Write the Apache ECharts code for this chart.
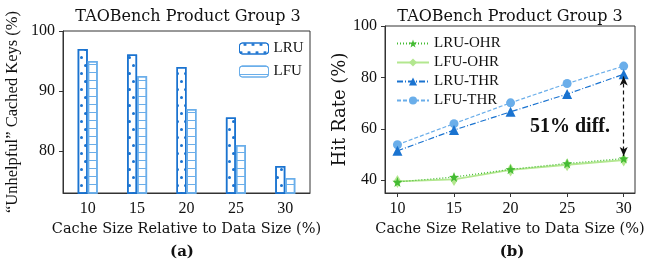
<!DOCTYPE html>
<html>
<head>
<meta charset="utf-8">
<script src="https://cdn.jsdelivr.net/npm/echarts@6/dist/echarts.min.js"></script>
<style>
html,body{margin:0;padding:0;background:#fff;}
#main{width:662px;height:263px;}
</style>
</head>
<body>
<div id="main"></div>
<script>
// data
var sizes = ['10', '15', '20', '25', '30'];
var sizeVals = [10, 15, 20, 25, 30];
var lruKeys = [97, 96.1, 94, 85.6, 77.5];
var lfuKeys = [95, 92.5, 87, 81, 75.5];
var lruOhr = [39.3, 41.2, 44.2, 46.5, 48.4];
var lfuOhr = [39.5, 40.3, 44, 46, 47.8];
var lruThr = [51.4, 59.5, 66.6, 73.5, 81.2];
var lfuThr = [53.8, 62, 70.1, 77.6, 84.4];
var leftTicks = [80, 90, 100];
var rightTicks = [40, 60, 80, 100];

var FONT = 'Liberation Serif';
var WIDE = 'DejaVu Serif';
var C_DARK = '#1a73d0', C_LIGHT = '#6aaeea', C_GREEN = '#44bb33', C_LGREEN = '#b3e78f';
var STAR = 'path://M0,-10 L2.35,-3.24 L9.51,-3.09 L3.8,1.24 L5.88,8.09 L0,4 L-5.88,8.09 L-3.8,1.24 L-9.51,-3.09 L-2.35,-3.24 Z';

function pairs(xs, ys){
	var d = [];
	for(var i=0;i<xs.length;i++){
		d.push([xs[i], ys[i]]);
	}
	return d;
}

var xNameTxt = {color:'#111', fontFamily:WIDE, fontSize:14.5};
var titleTxt = {fontFamily:WIDE, fontSize:16, fontWeight:'normal', color:'#111'};
var myChart = echarts.init(document.getElementById('main'), null, {renderer:'canvas'});

var option = {
	animation: false,
	backgroundColor: '#fff',
	textStyle: {fontFamily: FONT, color:'#111'},
	title: [
		{text:'TAOBench Product Group 3', left:183, top:4, textAlign:'center', textStyle:titleTxt},
		{text:'TAOBench Product Group 3', left:505, top:4, textAlign:'center', textStyle:titleTxt},
		{text:'(a)', left:177, top:240, textAlign:'center', textStyle:{fontFamily:WIDE, fontSize:15, fontWeight:'bold', color:'#111'}},
		{text:'(b)', left:507, top:240, textAlign:'center', textStyle:{fontFamily:WIDE, fontSize:15, fontWeight:'bold', color:'#111'}}
	],
	legend: [
		{
			left:234, top:36, orient:'vertical', itemWidth:29, itemHeight:11, itemGap:8,
			textStyle:{fontFamily:FONT, fontSize:15, color:'#111'},
			itemStyle:{borderWidth:1},
			data:['LRU','LFU']
		},
		{
			left:391, top:31, orient:'vertical', itemWidth:32, itemHeight:10, itemGap:4,
			textStyle:{fontFamily:FONT, fontSize:15, color:'#111'},
			data:['LRU-OHR','LFU-OHR','LRU-THR','LFU-THR']
		}
	],
	grid: [
		{left:63, top:31, width:247, height:162, show:true, borderColor:'#333', borderWidth:1},
		{left:385, top:26, width:250, height:167, show:true, borderColor:'#333', borderWidth:1}
	],
	xAxis: [
		{
			type:'category', gridIndex:0, data:sizes,
			axisLine:{lineStyle:{color:'#333'}},
			axisTick:{alignWithLabel:true, length:4, lineStyle:{color:'#333'}},
			axisLabel:{color:'#111', fontFamily:FONT, fontSize:16, margin:8},
			name:'Cache Size Relative to Data Size (%)', nameLocation:'middle', nameGap:29,
			nameTextStyle:xNameTxt
		},
		{
			type:'value', gridIndex:1, min:8.9, max:31, interval:5,
			axisLabel:{color:'#111', fontFamily:FONT, fontSize:16, margin:8, customValues:sizeVals},
			axisTick:{length:4, lineStyle:{color:'#333'}, customValues:sizeVals},
			axisLine:{lineStyle:{color:'#333'}},
			splitLine:{show:false},
			name:'Cache Size Relative to Data Size (%)', nameLocation:'middle', nameGap:29,
			nameTextStyle:xNameTxt
		}
	],
	yAxis: [
		{
			type:'value', gridIndex:0, min:73, max:100,
			axisLine:{show:true, lineStyle:{color:'#333'}},
			axisTick:{show:true, length:4, lineStyle:{color:'#333'}, customValues:leftTicks},
			axisLabel:{color:'#111', fontFamily:FONT, fontSize:16, margin:8, customValues:leftTicks},
			splitLine:{show:false},
			name:'\u201cUnhelpful\u201d Cached Keys (%)', nameLocation:'middle', nameGap:42,
			nameTextStyle:{color:'#111', fontFamily:FONT, fontSize:16.5}
		},
		{
			type:'value', gridIndex:1, min:35, max:100,
			axisLine:{show:true, lineStyle:{color:'#333'}},
			axisTick:{show:true, length:4, lineStyle:{color:'#333'}, customValues:rightTicks},
			axisLabel:{color:'#111', fontFamily:FONT, fontSize:16, margin:8, customValues:rightTicks},
			splitLine:{show:false},
			name:'Hit Rate (%)', nameLocation:'middle', nameGap:35,
			nameTextStyle:{color:'#111', fontFamily:WIDE, fontSize:18}
		}
	],
	series: [
		{
			name:'LRU', type:'bar', xAxisIndex:0, yAxisIndex:0, data:lruKeys,
			barWidth:10, barGap:'0%',
			itemStyle:{
				color:'#fff', borderColor:C_DARK, borderWidth:1.5,
				decal:{symbol:'circle', symbolSize:1, color:C_DARK, dashArrayX:[[3,5],[0,4,3,1]], dashArrayY:[3,5]}
			}
		},
		{
			name:'LFU', type:'bar', xAxisIndex:0, yAxisIndex:0, data:lfuKeys,
			barWidth:10,
			itemStyle:{
				color:'#fff', borderColor:C_LIGHT, borderWidth:1.5,
				decal:{symbol:'rect', symbolSize:1, symbolKeepAspect:false, color:C_LIGHT, dashArrayX:[1,0], dashArrayY:[1,7]}
			}
		},
		{
			name:'LRU-OHR', type:'line', xAxisIndex:1, yAxisIndex:1, data:pairs(sizeVals, lruOhr),
			symbol:STAR, symbolSize:10, z:4,
			lineStyle:{color:C_GREEN, width:1.3, type:[1,2]},
			itemStyle:{color:C_GREEN}
		},
		{
			name:'LFU-OHR', type:'line', xAxisIndex:1, yAxisIndex:1, data:pairs(sizeVals, lfuOhr),
			symbol:'diamond', symbolSize:[8,13], z:3,
			lineStyle:{color:C_LGREEN, width:1.8},
			itemStyle:{color:C_LGREEN}
		},
		{
			name:'LRU-THR', type:'line', xAxisIndex:1, yAxisIndex:1, data:pairs(sizeVals, lruThr),
			symbol:'triangle', symbolSize:10, z:4,
			lineStyle:{color:C_DARK, width:1.2, type:[6,2,1,2]},
			itemStyle:{color:C_DARK},
			markLine:{
				silent:true, symbol:['arrow','arrow'], symbolSize:[6,9],
				label:{show:false},
				lineStyle:{color:'#111', type:[4,3], width:1.2},
				data:[[{coord:[30, 80.3]}, {coord:[30, 49.4]}]]
			}
		},
		{
			name:'LFU-THR', type:'line', xAxisIndex:1, yAxisIndex:1, data:pairs(sizeVals, lfuThr),
			symbol:'circle', symbolSize:9, z:3,
			lineStyle:{color:C_LIGHT, width:1.2, type:[4,2]},
			itemStyle:{color:C_LIGHT}
		}
	],
	graphic: [
		{type:'text', left:530, top:117, style:{text:'51% diff.', font:'bold 20px "Liberation Serif"', fill:'#111'}}
	]
};
myChart.setOption(option);
</script>
</body>
</html>
